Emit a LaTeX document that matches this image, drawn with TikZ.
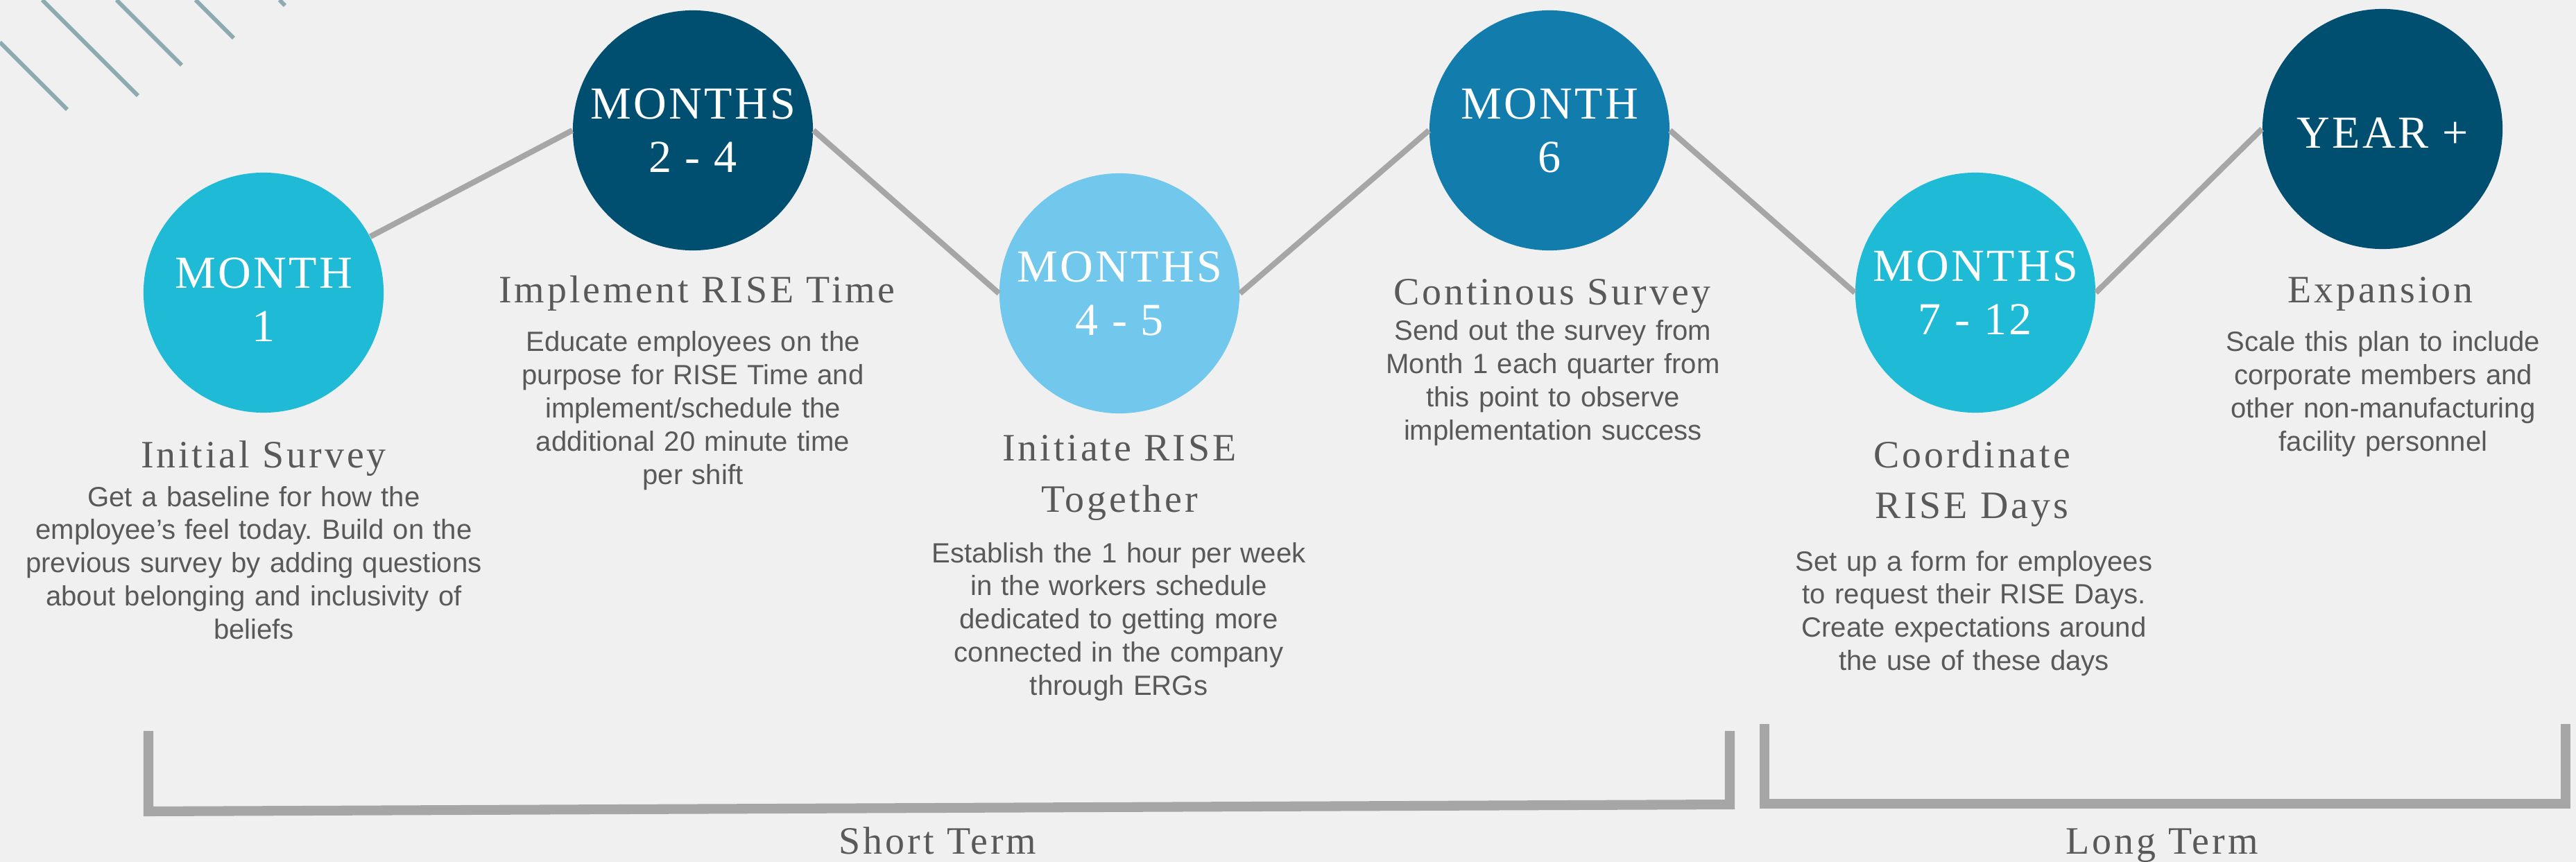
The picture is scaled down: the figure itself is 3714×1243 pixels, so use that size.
\documentclass[tikz,border=0pt]{standalone}
\usepackage{fontspec}
\setmainfont{Liberation Serif}
\newfontfamily\circfont[LetterSpace=5]{Liberation Serif}
\newfontfamily\headfont[LetterSpace=7]{Liberation Serif}
\newfontfamily\bodyfont{Liberation Sans}
\frenchspacing

\definecolor{bgcolor}{HTML}{F0F0F0}
\definecolor{cyanish}{HTML}{1EBAD6}
\definecolor{navy}{HTML}{004F71}
\definecolor{skyblue}{HTML}{72C7EC}
\definecolor{midblue}{HTML}{127DAD}
\definecolor{linegray}{HTML}{A6A6A6}
\definecolor{textgray}{HTML}{595959}
\definecolor{hatch}{HTML}{8DAAB0}

\begin{document}
\begin{tikzpicture}[x=0.01cm, y=-0.01cm,
  stage/.style={circle, minimum size=3.46cm, inner sep=0pt, text=white, align=center,
    font=\circfont\fontsize{18.8}{21.9}\selectfont},
  heading/.style={anchor=base, text width=7cm, align=center, inner sep=0pt, text=textgray,
    font=\headfont\fontsize{15.9}{20.9}\selectfont},
  desc/.style={anchor=base, text width=7cm, align=center, inner sep=0pt, text=textgray,
    font=\bodyfont\fontsize{11.4}{13.6}\selectfont},
  link/.style={draw=linegray, line width=2.3pt},
  bracket/.style={draw=linegray, line width=4pt},
  stripe/.style={draw=hatch, line width=1.7pt}]

% background
\useasboundingbox (0,0) rectangle (3714,1243);
\fill[bgcolor] (0,0) rectangle (3714,1243);

% stripes in the corner
\draw[stripe] (0,61) -- (97,158);
\draw[stripe] (61,0) -- (199,138);
\draw[stripe] (168,0) -- (262,94);
\draw[stripe] (282,0) -- (337,55);
\draw[stripe] (403,0) -- (411,8);

% stages (struts push the first and last labels down a little)
\node[stage, fill=cyanish] (M1) at (380,422) {\rule{0pt}{0.63cm}MONTH\\1};
\node[stage, fill=navy] (M2) at (999,188) {MONTHS\\2 - 4};
\node[stage, fill=skyblue] (M4) at (1614,423) {MONTHS\\4 - 5};
\node[stage, fill=midblue] (M6) at (2234,188) {MONTH\\6};
\node[stage, fill=cyanish] (M7) at (2848,422) {MONTHS\\7 - 12};
\node[stage, fill=navy] (Y) at (3435,186) {\rule{0pt}{0.54cm}YEAR +};

% links
\draw[link] (M1) -- (M2.west);
\draw[link] (M2.east) -- (M4.west);
\draw[link] (M4.east) -- (M6.west);
\draw[link] (M6.east) -- (M7.west);
\draw[link] (M7.east) -- (Y.west);

% headings and text
\node[heading] (H1) at (380,674) {Initial Survey};
\node[desc] (D1) at (366,730) {Get a baseline for how the\\employee’s feel today. Build on the\\previous survey by adding questions\\about belonging and inclusivity of\\beliefs};

\node[heading] (H2) at (1005,437) {Implement RISE Time};
\node[desc] (D2) at (999,507) {Educate employees on the\\purpose for RISE Time and\\implement/schedule the\\additional 20 minute time\\per shift};

\node[heading] (H4) at (1614,665) {Initiate RISE\\Together};
\node[desc] (D4) at (1613,811) {Establish the 1 hour per week\\in the workers schedule\\dedicated to getting more\\connected in the company\\through ERGs};

\node[heading] (H6) at (2238,440) {Continous Survey};
\node[desc] (D6) at (2239,491) {Send out the survey from\\Month 1 each quarter from\\this point to observe\\implementation success};

\node[heading] (H7) at (2843,674) {Coordinate\\RISE Days};
\node[desc] (D7) at (2846,823) {Set up a form for employees\\to request their RISE Days.\\Create expectations around\\the use of these days};

\node[heading] (HY) at (3432,437) {Expansion};
\node[desc] (DY) at (3436,507) {Scale this plan to include\\corporate members and\\other non-manufacturing\\facility personnel};

% brackets
\draw[bracket] (214,1054) -- (214,1170) -- (2494,1160) -- (2494,1054);
\draw[bracket] (2544,1044) -- (2544,1159) -- (3699,1159) -- (3699,1044);

\node[heading] (ST) at (1352,1231) {Short Term};
\node[heading] (LT) at (3117,1231) {Long Term};

\end{tikzpicture}
\end{document}
